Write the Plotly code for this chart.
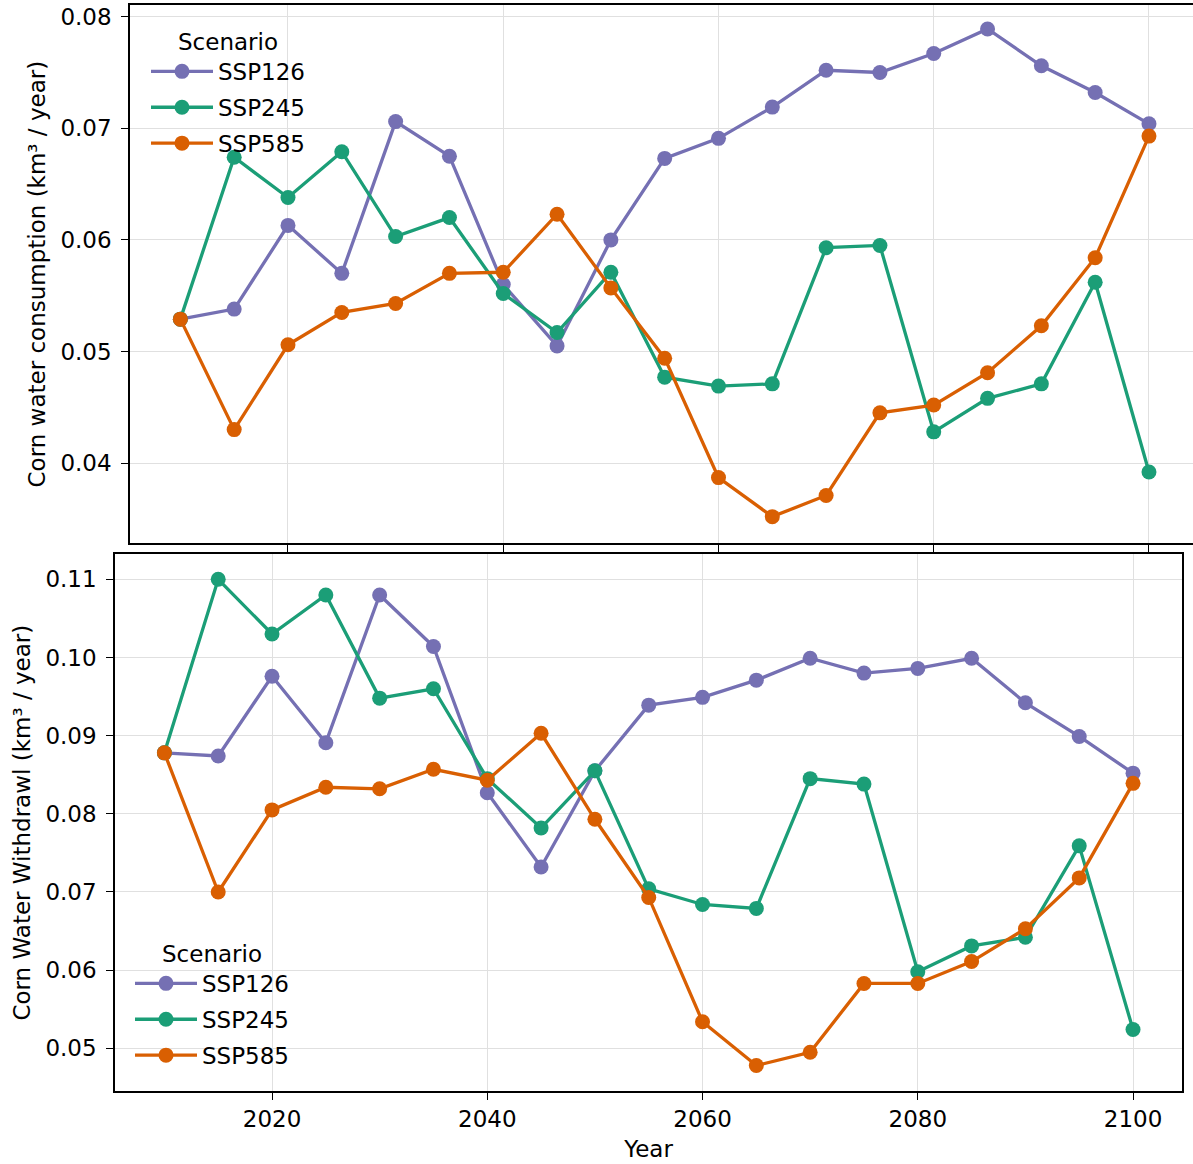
import plotly.graph_objects as go

years = [2010, 2015, 2020, 2025, 2030, 2035, 2040, 2045, 2050, 2055,
         2060, 2065, 2070, 2075, 2080, 2085, 2090, 2095, 2100]
scenarios = ["SSP126", "SSP245", "SSP585"]

consumption_ssp126 = [0.0529, 0.0538, 0.0613, 0.0570, 0.0706, 0.0675, 0.0560, 0.0505, 0.0600, 0.0673,
                      0.0691, 0.0719, 0.0752, 0.0750, 0.0767, 0.0789, 0.0756, 0.0732, 0.0704]
consumption_ssp245 = [0.0529, 0.0674, 0.0638, 0.0679, 0.0603, 0.0620, 0.0552, 0.0517, 0.0571, 0.0477,
                      0.0469, 0.0471, 0.0593, 0.0595, 0.0428, 0.0458, 0.0471, 0.0562, 0.0392]
consumption_ssp585 = [0.0529, 0.0430, 0.0506, 0.0535, 0.0543, 0.0570, 0.0571, 0.0623, 0.0557, 0.0494,
                      0.0387, 0.0352, 0.0371, 0.0445, 0.0452, 0.0481, 0.0523, 0.0584, 0.0693]

withdrawal_ssp126 = [0.0878, 0.0874, 0.0976, 0.0891, 0.1080, 0.1014, 0.0827, 0.0732, 0.0855, 0.0939,
                     0.0949, 0.0971, 0.0999, 0.0980, 0.0986, 0.0999, 0.0942, 0.0899, 0.0852]
withdrawal_ssp245 = [0.0878, 0.1100, 0.1030, 0.1080, 0.0948, 0.0960, 0.0845, 0.0782, 0.0855, 0.0704,
                     0.0684, 0.0679, 0.0845, 0.0838, 0.0598, 0.0631, 0.0642, 0.0759, 0.0524]
withdrawal_ssp585 = [0.0878, 0.0700, 0.0805, 0.0834, 0.0832, 0.0857, 0.0843, 0.0903, 0.0793, 0.0693,
                     0.0534, 0.0478, 0.0495, 0.0583, 0.0583, 0.0611, 0.0653, 0.0718, 0.0839]

colors = {"SSP126": "#7570b3", "SSP245": "#1b9e77", "SSP585": "#d95f02"}
consumption = {"SSP126": consumption_ssp126, "SSP245": consumption_ssp245, "SSP585": consumption_ssp585}
withdrawal = {"SSP126": withdrawal_ssp126, "SSP245": withdrawal_ssp245, "SSP585": withdrawal_ssp585}

W, H = 1193, 1164
FONT = "DejaVu Sans"
FS = 23

fig = go.Figure()
for s in scenarios:
    fig.add_trace(go.Scatter(x=years, y=consumption[s], mode="lines+markers", name=s,
                             line=dict(color=colors[s], width=3.3),
                             marker=dict(color=colors[s], size=15),
                             legendgroup="top" + s,
                             xaxis="x", yaxis="y", legend="legend"))
for s in scenarios:
    fig.add_trace(go.Scatter(x=years, y=withdrawal[s], mode="lines+markers", name=s,
                             line=dict(color=colors[s], width=3.3),
                             marker=dict(color=colors[s], size=15),
                             legendgroup="bot" + s,
                             xaxis="x2", yaxis="y2", legend="legend2"))

def px_x(p):
    return p / W

def px_y(p):
    return 1 - p / H

axis_common = dict(showline=True, linecolor="black", linewidth=1.6, mirror=True,
                   ticks="outside", ticklen=7, tickwidth=1.3, tickcolor="black",
                   showgrid=True, gridcolor="#e0e0e0", gridwidth=1, zeroline=False,
                   tickfont=dict(family=FONT, size=FS, color="black"), automargin=False)

legend_common = dict(xanchor="left", bgcolor="rgba(0,0,0,0)", borderwidth=0,
                     font=dict(family=FONT, size=FS, color="black"),
                     title=dict(text="Scenario", side="top center",
                                font=dict(family=FONT, size=FS, color="black")),
                     tracegroupgap=3, itemwidth=62)

fig.update_layout(
    width=W, height=H,
    margin=dict(l=0, r=0, t=0, b=0),
    paper_bgcolor="white", plot_bgcolor="white",
    font=dict(family=FONT, color="black"),
    xaxis=dict(domain=[px_x(130), 1.0], range=[2005.32, 2104.09],
               tickvals=[2020, 2040, 2060, 2080, 2100], showticklabels=False,
               anchor="y", **axis_common),
    yaxis=dict(domain=[px_y(543), px_y(5.3)], range=[0.03284, 0.08102],
               tickvals=[0.04, 0.05, 0.06, 0.07, 0.08], ticktext=["0.04", "0.05", "0.06", "0.07", "0.08"],
               anchor="x", ticklabelstandoff=5,
               title=dict(text="Corn water consumption (km³ / year)", standoff=8,
                          font=dict(family=FONT, size=FS, color="black")),
               **axis_common),
    xaxis2=dict(domain=[px_x(115), px_x(1182)], range=[2005.41, 2104.55],
                tickvals=[2020, 2040, 2060, 2080, 2100], anchor="y2", ticklabelstandoff=0,
                title=dict(text="Year", standoff=9, font=dict(family=FONT, size=FS, color="black")),
                **axis_common),
    yaxis2=dict(domain=[px_y(1091), px_y(554.3)], range=[0.04454, 0.1132],
                tickvals=[0.05, 0.06, 0.07, 0.08, 0.09, 0.10, 0.11],
                ticktext=["0.05", "0.06", "0.07", "0.08", "0.09", "0.10", "0.11"],
                anchor="x2", ticklabelstandoff=5,
                title=dict(text="Corn Water Withdrawl (km³ / year)", standoff=8,
                           font=dict(family=FONT, size=FS, color="black")),
                **axis_common),
    legend=dict(x=px_x(146), y=px_y(20), yanchor="top", **legend_common),
    legend2=dict(x=px_x(130), y=px_y(1077), yanchor="bottom", **legend_common),
)

fig.write_html("out.html", config={"displayModeBar": False},
               post_script="document.body.style.margin='0';document.body.style.padding='0';")
